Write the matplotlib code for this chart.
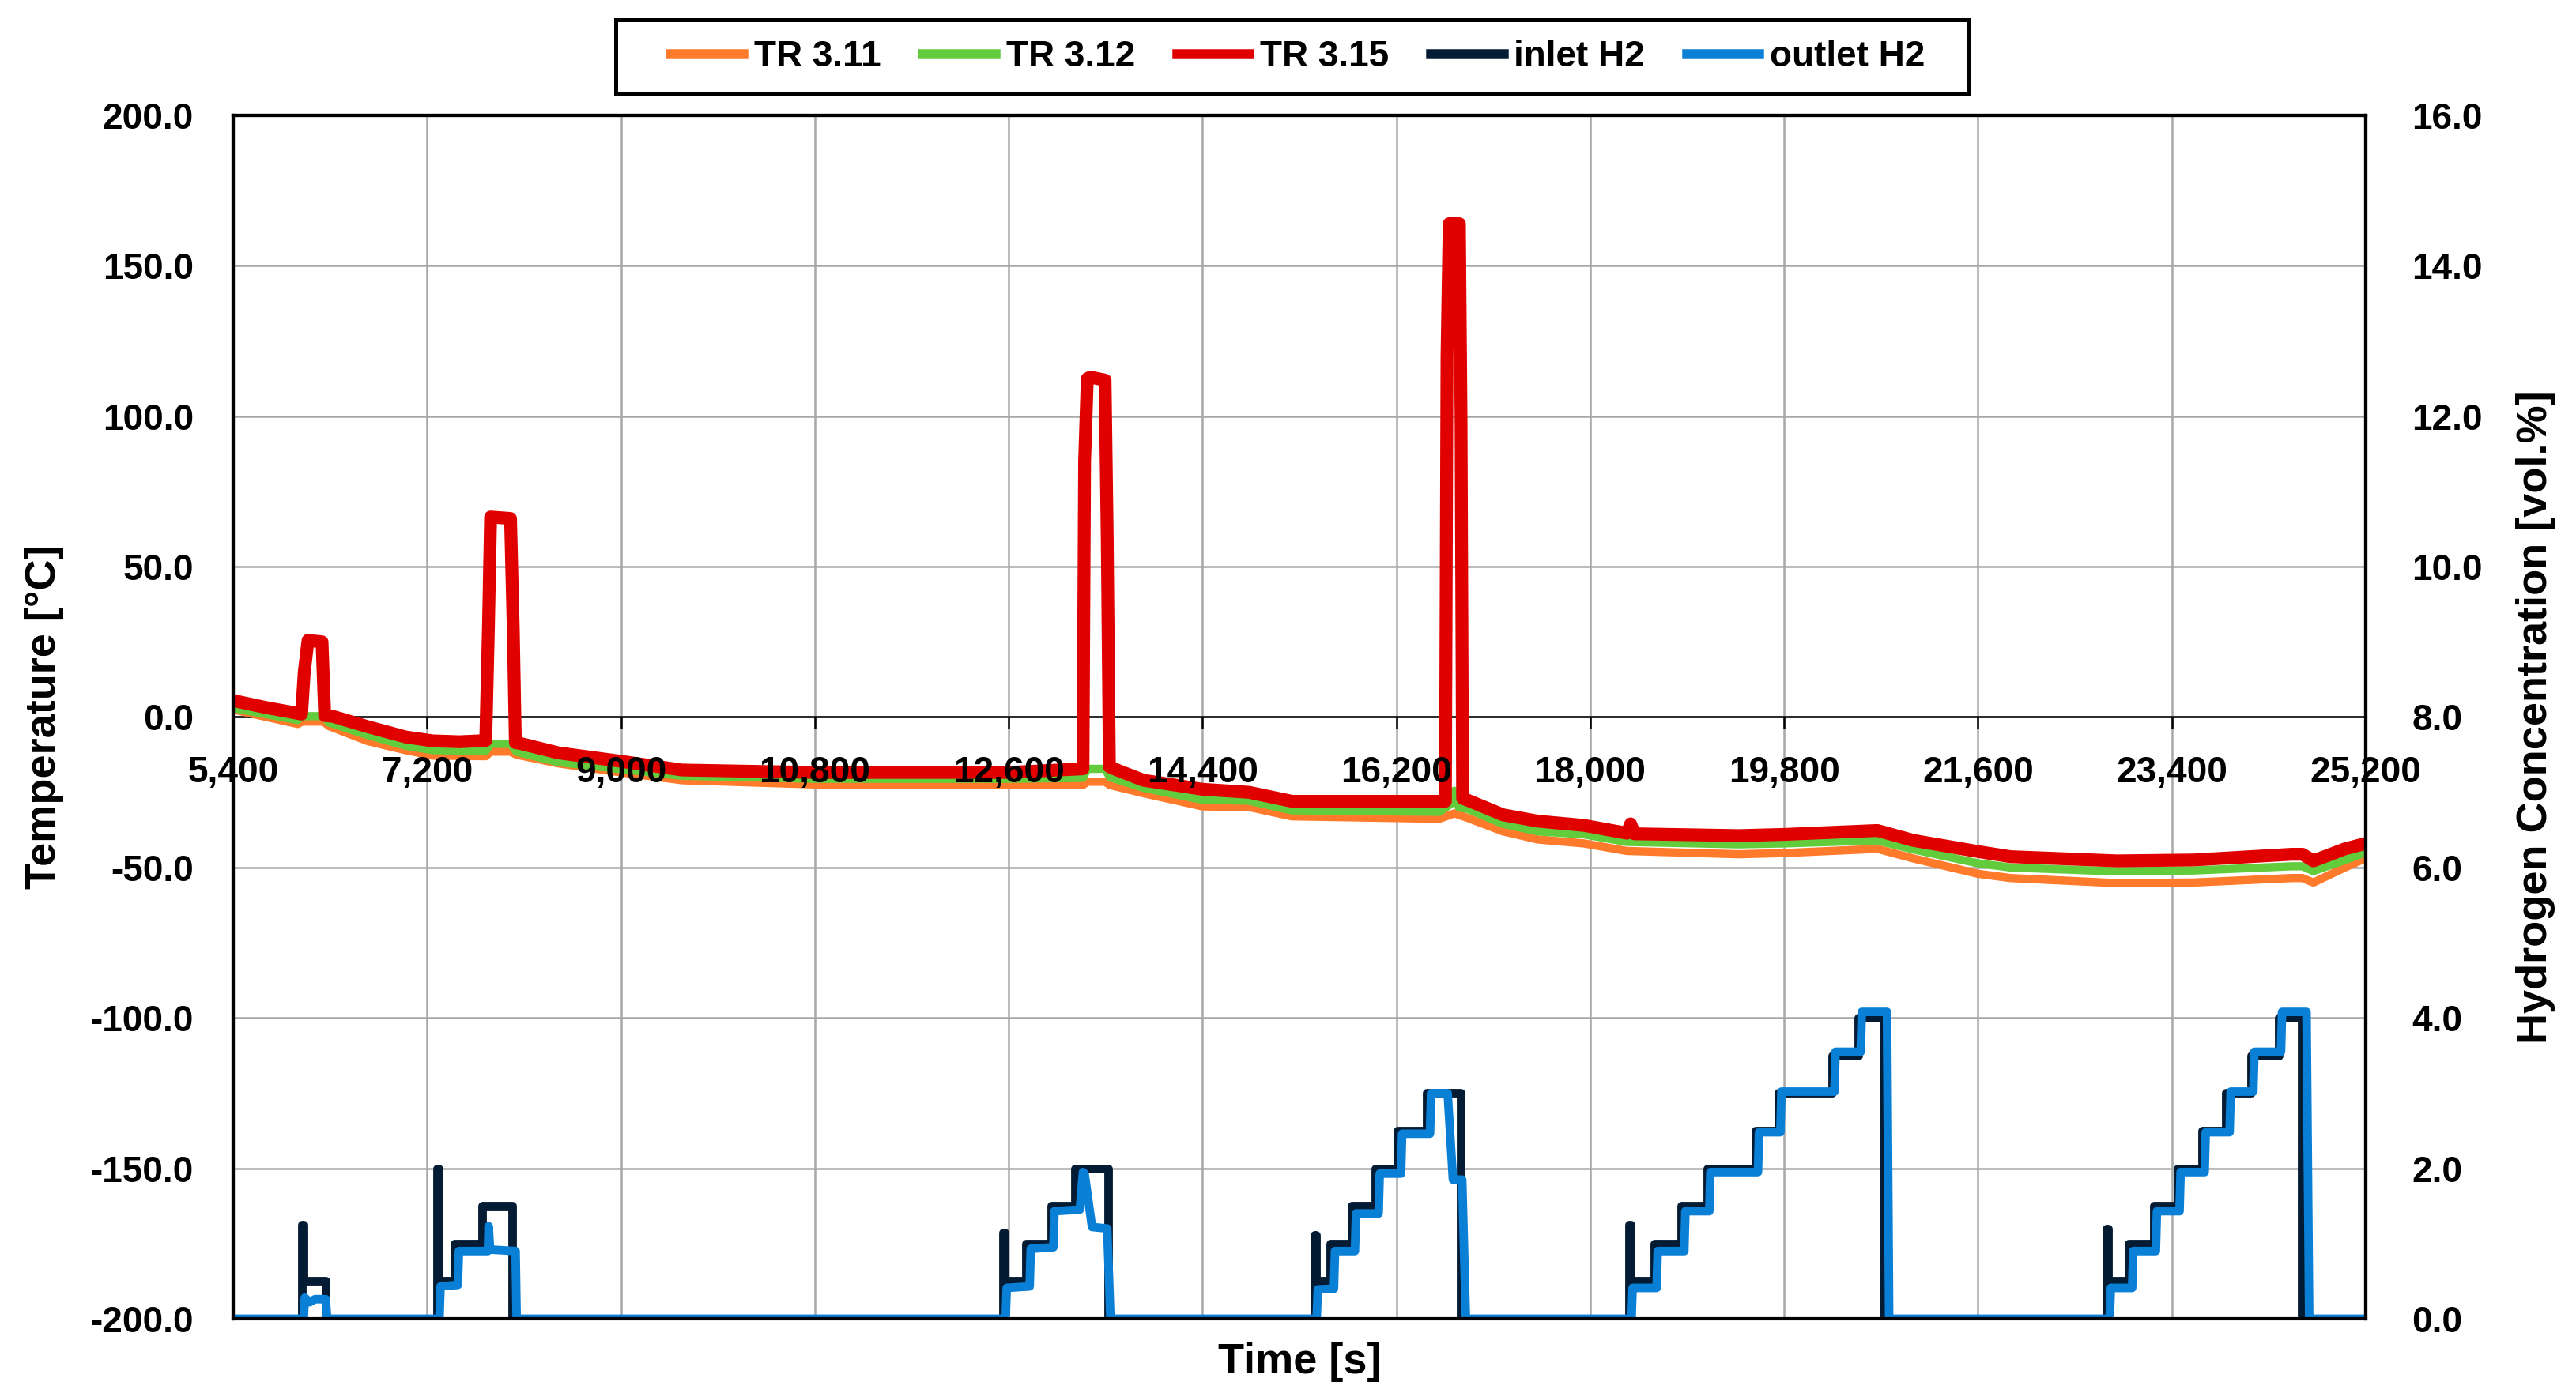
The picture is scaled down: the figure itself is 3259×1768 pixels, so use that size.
import matplotlib
matplotlib.use("Agg")
from matplotlib import pyplot as plt
from matplotlib.lines import Line2D
from matplotlib.patches import Rectangle
from matplotlib.ticker import FuncFormatter, MultipleLocator

plt.rcParams["font.family"] = ["Liberation Sans", "DejaVu Sans"]
plt.rcParams["font.weight"] = "bold"

# TR 3.15 [s] / [°C]
tr315_t = [5400, 5700, 6035, 6060, 6095, 6225, 6240, 6250, 6320, 6650, 7000, 7250, 7500, 7745,
           7770, 7790, 7975, 8000, 8020, 8070, 8420, 9000, 9570, 10800, 12600, 13290,
           13305, 13330, 13360, 13495, 13515, 13535, 13600, 13850, 14400, 14830, 15230, 16600, 16655,
           16670, 16690, 16785, 16800, 16815, 16860, 17190, 17515, 17940, 18340, 18375, 18410, 19380, 19800,
           20666, 21000, 21600, 21900, 22890, 23600, 24515, 24612, 24714, 25007, 25200]
tr315_v = [5.5, 3.2, 1.0, 15, 25.5, 25, 10, 0.5, 0.3, -3.2, -6.6, -7.9, -8.2, -7.8,
           30, 66.5, 66, 30, -8.5, -8.8, -11.9, -14.7, -17.6, -18.4, -18.4, -17.2,
           85, 112.5, 113, 112, 60, -16.5, -17.5, -21, -24, -25, -28, -28, -28,
           120, 164, 164, 100, -27, -27.6, -32.5, -34.6, -36, -38.6, -35.5, -38.8, -39.4, -39,
           -37.7, -41, -44.7, -46.4, -47.8, -47.5, -45.6, -45.6, -47.8, -43.8, -42]

# TR 3.12
tr312_t = [5400, 6000, 6040, 6240, 6290, 6650, 7000, 7250, 7745,
           7790, 7975, 8030, 8420, 9000, 9570, 10800, 12600, 13290,
           13330, 13495, 13540, 13850, 14400, 14830, 15230, 16600, 16700, 16740, 16780, 16860,
           17190, 17515, 17940, 18340, 19380, 19800, 20666, 21000, 21600, 21900, 22890, 23600,
           24515, 24612, 24714, 25007, 25200]
tr312_v = [3.0, -1.0, 0.3, 0.3, -1.8, -6, -9.5, -11, -11.2,
           -8.9, -8.9, -11.5, -15, -17.3, -19.5, -20.5, -20.5, -20.2,
           -17.2, -17.2, -20, -23.5, -27.5, -27.8, -31, -31.5, -29, -24.5, -30, -30.5,
           -35.5, -38, -39, -41.5, -42.3, -42, -41, -44, -48.6, -50, -51.3, -51,
           -49.6, -49.6, -51.2, -47.5, -45]

# TR 3.11
tr311_t = [5400, 6000, 6040, 6240, 6290, 6650, 7000, 7250, 7745,
           7790, 7975, 8030, 8420, 9000, 9570, 10800, 12600, 13290,
           13330, 13495, 13540, 13850, 14400, 14830, 15230, 16600, 16700, 16740, 16780, 16860,
           17190, 17515, 17940, 18340, 19380, 19800, 20666, 21000, 21600, 21900, 22890, 23600,
           24515, 24612, 24714, 25007, 25200]
tr311_v = [2.5, -2.3, -1.5, -1.5, -3, -8, -11, -12.8, -13,
           -11.5, -11.5, -12.5, -15.4, -18.4, -21, -22.4, -22.4, -22.6,
           -21.5, -21.5, -22.6, -25.3, -29.7, -29.9, -33, -33.8, -32.5, -32, -32.5, -33.5,
           -38, -40.7, -42, -44.5, -45.6, -45.2, -43.8, -47, -52.1, -53.5, -55.2, -55,
           -53.5, -53.5, -55, -50, -46.9]

# inlet H2 [vol.%], step changes
inlet_t = [5400, 6036, 6050, 6256, 7295, 7310, 7455, 7712, 7993,
           12550, 12565, 12763, 12995, 13215, 13521,
           15436, 15451, 15588, 15783, 16003, 16211, 16481, 16798,
           18357, 18372, 18597, 18846, 19086, 19538, 19746, 20247, 20492, 20724,
           22791, 22806, 22999, 23231, 23452, 23684, 23904, 24136, 24393, 24602, 25200]
inlet_v = [0, 1.25, 0.5, 0, 2.0, 0.5, 1.0, 1.5, 0,
           1.15, 0.5, 1.0, 1.5, 2.0, 0,
           1.11, 0.5, 1.0, 1.5, 2.0, 2.5, 3.0, 0,
           1.25, 0.5, 1.0, 1.5, 2.0, 2.5, 3.0, 3.5, 4.0, 0,
           1.2, 0.5, 1.0, 1.5, 2.0, 2.5, 3.0, 3.5, 4.0, 0, 0]

# outlet H2
outlet_t = [5400,
            6055, 6065, 6110, 6160, 6260, 6272,
            7315, 7325, 7486, 7496, 7765, 7772, 7785, 8022, 8032,
            12572, 12582, 12795, 12805, 13015, 13025, 13260, 13290, 13305, 13374, 13515, 13545,
            15460, 15470, 15620, 15630, 15815, 15825, 16035, 16045, 16243, 16253, 16512, 16522,
            16676, 16725, 16811, 16845,
            18383, 18393, 18616, 18626, 18873, 18883, 19105, 19115, 19557, 19567, 19765, 19775,
            20267, 20277, 20511, 20521, 20755, 20775,
            22823, 22833, 23031, 23041, 23251, 23261, 23471, 23481, 23704, 23714, 23936, 23946,
            24156, 24166, 24413, 24423, 24650, 24675,
            25200]
outlet_v = [0,
            0, 0.28, 0.22, 0.26, 0.26, 0,
            0, 0.43, 0.45, 0.9, 0.9, 1.23, 0.92, 0.9, 0,
            0, 0.41, 0.43, 0.93, 0.95, 1.43, 1.45, 1.95, 1.93, 1.22, 1.2, 0,
            0, 0.39, 0.4, 0.9, 0.9, 1.4, 1.4, 1.93, 1.93, 2.46, 2.46, 3.0,
            3.0, 1.85, 1.85, 0,
            0, 0.41, 0.41, 0.9, 0.9, 1.43, 1.43, 1.95, 1.95, 2.48, 2.48, 3.02,
            3.02, 3.55, 3.55, 4.08, 4.08, 0,
            0, 0.41, 0.41, 0.9, 0.9, 1.43, 1.43, 1.95, 1.95, 2.48, 2.48, 3.02,
            3.02, 3.55, 3.55, 4.08, 4.08, 0,
            0]

c_311 = "#FF7A2A"
c_312 = "#62CC3C"
c_315 = "#E00000"
c_in = "#031B33"
c_out = "#0A7FD6"
c_grid = "#A8A8A8"

W, H = 3259, 1768
fig = plt.figure(figsize=(W / 300, H / 300), dpi=300)
ax = fig.add_axes([295 / W, 1 - 1669 / H, (2993 - 295) / W, (1669 - 146) / H])

ax.set_xlim(5400, 25200)
ax.set_ylim(-200, 200)
ax.xaxis.set_major_locator(MultipleLocator(1800))
ax.yaxis.set_major_locator(MultipleLocator(50))
ax.xaxis.set_major_formatter(FuncFormatter(lambda x, p: f"{x:,.0f}"))
ax.yaxis.set_major_formatter(FuncFormatter(lambda y, p: f"{y:.1f}"))

# grid behind the lines, tick labels above them
ax.set_axisbelow(False)
for x in ax.get_xticks():
    ax.axvline(x, color=c_grid, lw=0.6, zorder=0.5)
for y in ax.get_yticks():
    ax.axhline(y, color=c_grid, lw=0.6, zorder=0.5)

ax.plot(tr311_t, tr311_v, color=c_311, lw=2.5, solid_joinstyle="round")
ax.plot(tr312_t, tr312_v, color=c_312, lw=2.5, solid_joinstyle="round")
ax.plot(tr315_t, tr315_v, color=c_315, lw=3.9, solid_joinstyle="round")

ax.spines["bottom"].set_position(("data", 0))
ax.spines["bottom"].set_linewidth(0.6)
ax.spines["bottom"].set_zorder(1.8)
for s in ("left", "right", "top"):
    ax.spines[s].set_linewidth(1.0)

ax.tick_params(axis="x", direction="out", length=3.6, width=0.6, pad=8, labelsize=11)
ax.tick_params(axis="y", length=0, pad=12, labelsize=11)
ax.set_ylabel("Temperature [°C]", fontsize=13, fontweight="bold", labelpad=8)
ax.set_xlabel("Time [s]", fontsize=13, fontweight="bold")
ax.xaxis.set_label_coords(0.5, -0.02)

ax2 = ax.twinx()
ax2.plot(inlet_t, inlet_v, color=c_in, lw=2.6, drawstyle="steps-post", solid_joinstyle="round")
ax2.plot(outlet_t, outlet_v, color=c_out, lw=2.6, solid_joinstyle="round")
ax2.set_ylim(0, 16)
ax2.yaxis.set_major_locator(MultipleLocator(2))
ax2.yaxis.set_major_formatter(FuncFormatter(lambda y, p: f"{y:.1f}"))
ax2.tick_params(axis="y", length=0, pad=14, labelsize=11)
ax2.set_ylabel("Hydrogen Concentration [vol.%]", fontsize=13, fontweight="bold", labelpad=10)
for s in ("left", "right", "top", "bottom"):
    ax2.spines[s].set_linewidth(1.0)

handles = [
    Line2D([], [], color=c_311, lw=3),
    Line2D([], [], color=c_312, lw=3),
    Line2D([], [], color=c_315, lw=3),
    Line2D([], [], color=c_in, lw=3),
    Line2D([], [], color=c_out, lw=3),
]
labels = ["TR 3.11", "TR 3.12", "TR 3.15", "inlet H2", "outlet H2"]
fig.legend(handles, labels, loc="center", bbox_to_anchor=(1642 / W, 1 - 72 / H), ncol=5,
           frameon=False, prop={"weight": "bold", "size": 11},
           handlelength=2.0, handletextpad=0.3, columnspacing=1.15)
# legend box
fig.patches.append(Rectangle((779 / W, 1 - 118 / H), (2490 - 779) / W, (118 - 25) / H,
                             transform=fig.transFigure, fill=False, edgecolor="black", lw=1.2))

fig.savefig("out.png", dpi=300)
